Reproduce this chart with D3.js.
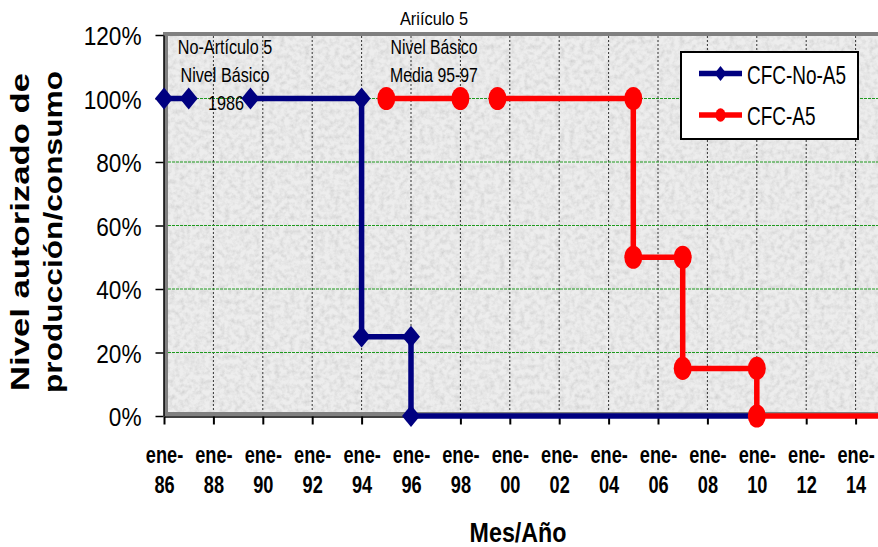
<!DOCTYPE html>
<html><head><meta charset="utf-8">
<script src="https://cdn.jsdelivr.net/npm/d3@7"></script>
<style>
html,body{margin:0;padding:0;background:#fff;overflow:hidden;}
svg{display:block;}
text{font-family:"Liberation Sans",Arial,Helvetica,sans-serif;fill:#000;}
</style></head><body>
<svg id="chart" width="878" height="547"></svg>
<script>
// ---- data ----
const seriesNames = ["CFC-No-A5", "CFC-A5"];
const seriesColors = ["#000080", "#ff0000"];
// CFC-No-A5 (null marks a break in the line)
const noA5Years  = [1986, 1987, null, 1989.5, 1994, 1994, 1996, 1996, 2010];
const noA5Levels = [1.00, 1.00, null, 1.00,   1.00, 0.25, 0.25, 0.00, 0.00];
// CFC-A5
const a5Years  = [1995, 1998, null, 1999.5, 2005, 2005, 2007, 2007, 2010, 2010, 2016];
const a5Levels = [1.00, 1.00, null, 1.00,   1.00, 0.50, 0.50, 0.15, 0.15, 0.00, 0.00];
// axes
const xTickYears = [1986, 1988, 1990, 1992, 1994, 1996, 1998, 2000, 2002, 2004, 2006, 2008, 2010, 2012, 2014];
const yTickValues = [0, 0.2, 0.4, 0.6, 0.8, 1.0, 1.2];
const xTickPrefix = "ene-";
const xTitle = "Mes/Año";
const yTitleLines = ["Nivel autorizado de", "producción/consumo"];
// annotations
const noteTopLabel = "Ariículo 5";
const noteLeftLines = ["No-Artículo 5", "Nivel Básico", "1986"];
const noteRightLines = ["Nivel Básico", "Media 95-97"];

// ---- layout ----
const W = 878, H = 547;
const x = d3.scaleLinear().domain([1986, 2016]).range([164, 905]);
const y = d3.scaleLinear().domain([0, 1.2]).range([416, 35]);
const svg = d3.select("#chart");

const defs = svg.append("defs");
const f = defs.append("filter").attr("id", "tex").attr("x", 0).attr("y", 0).attr("width", "100%").attr("height", "100%");
f.append("feTurbulence").attr("type", "fractalNoise").attr("baseFrequency", 0.2).attr("numOctaves", 3).attr("seed", 5).attr("result", "n");
f.append("feColorMatrix").attr("in", "n").attr("type", "matrix")
  .attr("values", "1.0 0 0 0 0.35  1.0 0 0 0 0.35  1.0 0 0 0 0.35  0 0 0 0 0.35");

// plot background
const px0 = x(1986), py0 = y(1.2), py1 = y(0);
svg.append("rect").attr("x", px0).attr("y", py0).attr("width", W - px0 + 20).attr("height", py1 - py0).attr("fill", "#e4e4e4");
svg.append("rect").attr("x", px0).attr("y", py0).attr("width", W - px0 + 20).attr("height", py1 - py0).attr("filter", "url(#tex)");

// gridlines
svg.append("g").selectAll("line").data(xTickYears.slice(1)).join("line")
  .attr("x1", d => x(d)).attr("x2", d => x(d)).attr("y1", py0 + 1).attr("y2", py1 - 3)
  .attr("stroke", "#333").attr("stroke-width", 1).attr("stroke-dasharray", "2,2");
svg.append("g").selectAll("line").data(yTickValues.filter(v => v > 0 && v < 1.2)).join("line")
  .attr("x1", px0).attr("x2", W).attr("y1", d => y(d)).attr("y2", d => y(d))
  .attr("stroke", "#1f9a1f").attr("stroke-width", 1).attr("stroke-dasharray", "3,1");

// plot area border (grey, Excel style)
svg.append("rect").attr("x", px0 - 1).attr("y", py0 - 3).attr("width", W).attr("height", 4).attr("fill", "#808080");
svg.append("rect").attr("x", px0).attr("y", py0 - 3).attr("width", 4).attr("height", py1 - py0 + 3).attr("fill", "#808080");
svg.append("rect").attr("x", px0).attr("y", py1 - 4).attr("width", W).attr("height", 4).attr("fill", "#808080");

// axes
const yAxis = svg.append("g").attr("transform", `translate(${px0 - 0.5},0)`)
  .call(d3.axisLeft(y).tickValues(yTickValues).tickSize(8).tickSizeOuter(0).tickFormat(d3.format(".0%")));
yAxis.select(".domain").attr("stroke", "#000").attr("stroke-width", 1.5);
yAxis.selectAll(".tick line").attr("stroke", "#000").attr("stroke-width", 1.5);
yAxis.selectAll(".tick text").attr("x", 0).attr("dy", null)
  .attr("transform", "translate(-22,9.5) scale(0.87,1)")
  .style("font-family", '"Liberation Sans",Arial,sans-serif').style("font-size", "26px").attr("fill", "#000");

const xAxis = svg.append("g").attr("transform", `translate(0,${py1 + 0.5})`)
  .call(d3.axisBottom(x).tickValues(xTickYears).tickSize(8).tickSizeOuter(0).tickFormat(""));
xAxis.select(".domain").attr("stroke", "#000").attr("stroke-width", 1.5);
xAxis.selectAll(".tick line").attr("stroke", "#000").attr("stroke-width", 2);
xAxis.selectAll(".tick").each(function(d) {
  const g = d3.select(this);
  g.append("text").attr("text-anchor", "middle").attr("transform", "translate(0,46) scale(0.79,1)")
    .style("font-size", "23px").style("font-weight", "bold").text(xTickPrefix);
  g.append("text").attr("text-anchor", "middle").attr("transform", "translate(0,76) scale(0.79,1)")
    .style("font-size", "23px").style("font-weight", "bold").text(String(d % 100).padStart(2, "0"));
});

// axis titles
svg.append("text").attr("text-anchor", "middle").attr("transform", "translate(518,542) scale(0.83,1)")
  .style("font-size", "28px").style("font-weight", "bold").text(xTitle);
yTitleLines.forEach((t, i) => {
  svg.append("text").attr("text-anchor", "middle")
    .attr("transform", `translate(${29 + i * 33},232) rotate(-90)`)
    .attr("textLength", i === 0 ? 318 : 322).attr("lengthAdjust", "spacingAndGlyphs")
    .style("font-size", "26px").style("font-weight", "bold").text(t);
});

// annotations
const noteSize = "19.5px";
svg.append("text").attr("text-anchor", "middle").attr("transform", "translate(434,25) scale(0.88,1)")
  .style("font-size", "18.6px").text(noteTopLabel);
noteLeftLines.forEach((t, i) => {
  svg.append("text").attr("text-anchor", "middle")
    .attr("transform", `translate(${i === 2 ? 226 : 225},${53.5 + i * 28.3}) scale(0.83,1)`)
    .style("font-size", noteSize).text(t);
});
noteRightLines.forEach((t, i) => {
  svg.append("text").attr("text-anchor", "middle")
    .attr("transform", `translate(434,${53.5 + i * 28.3}) scale(0.81,1)`)
    .style("font-size", noteSize).text(t);
});

// series
const toPts = (xs, ys) => xs.map((v, i) => ({ yr: v, lv: ys[i] }));
const series = [toPts(noA5Years, noA5Levels), toPts(a5Years, a5Levels)];
const line = d3.line().defined(d => d.yr != null).x(d => x(d.yr)).y(d => y(d.lv));
const diamond = d3.symbol(d3.symbolSquare, 162);
const circle = d3.symbol(d3.symbolCircle, Math.PI * 81);

series.forEach((pts, si) => {
  svg.append("path").datum(pts).attr("d", line).attr("fill", "none")
    .attr("stroke", seriesColors[si]).attr("stroke-width", 5.5).attr("stroke-linejoin", "miter");
  svg.append("g").selectAll("path").data(pts.filter(p => p.yr != null)).join("path")
    .attr("d", si === 0 ? diamond : circle)
    .attr("transform", p => si === 0
      ? `translate(${x(p.yr)},${y(p.lv)}) scale(1,1.22) rotate(45)`
      : `translate(${x(p.yr)},${y(p.lv)}) scale(1,1.28)`)
    .attr("fill", seriesColors[si]);
});

// legend
const lg = svg.append("g");
lg.append("rect").attr("x", 681).attr("y", 52).attr("width", 177).attr("height", 87)
  .attr("fill", "#fff").attr("stroke", "#000").attr("stroke-width", 2);
const legDiamond = d3.symbol(d3.symbolSquare, 72);
const legCircle = d3.symbol(d3.symbolCircle, Math.PI * 25);
seriesNames.forEach((name, i) => {
  const cy = 73.5 + i * 41.5;
  lg.append("line").attr("x1", 699).attr("x2", 742).attr("y1", cy).attr("y2", cy)
    .attr("stroke", seriesColors[i]).attr("stroke-width", 5.5);
  lg.append("path").attr("d", i === 0 ? legDiamond : legCircle)
    .attr("transform", i === 0 ? `translate(720.5,${cy}) scale(1,1.25) rotate(45)` : `translate(720.5,${cy}) scale(1,1.35)`)
    .attr("fill", seriesColors[i]);
  lg.append("text").attr("transform", `translate(747,${cy + 10}) scale(0.73,1)`)
    .style("font-size", "26px").text(name);
});
</script>
</body></html>
